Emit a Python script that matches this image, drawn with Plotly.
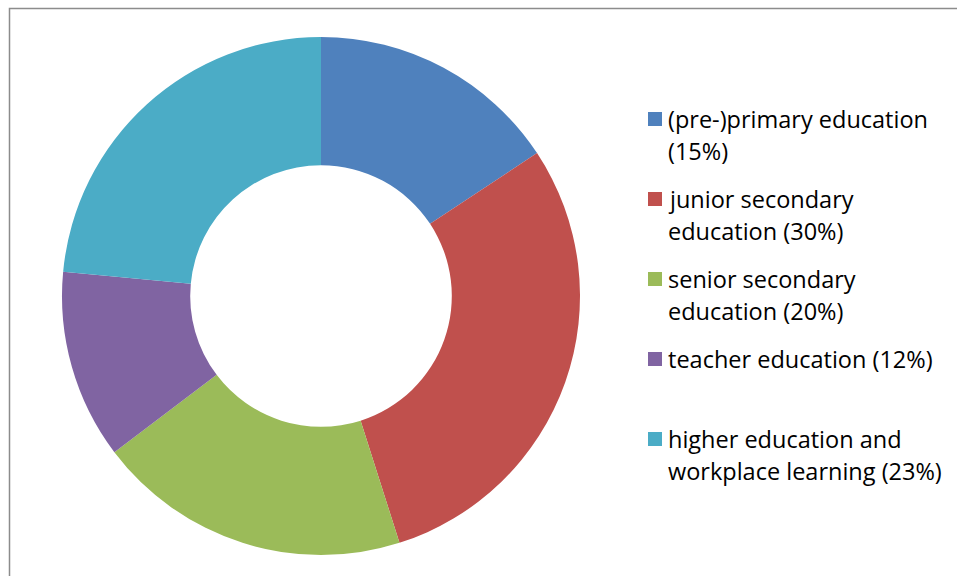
import plotly.graph_objects as go

labels = ["(pre-)primary education", "junior secondary education",
          "senior secondary education", "teacher education",
          "higher education and workplace learning"]
shares = [15.7, 29.4, 19.6, 11.8, 23.5]
colors = ["#4F81BD", "#C0504D", "#9BBB59", "#8064A2", "#4BACC6"]

# how the legend text wraps in the original
legend_lines = [
    ["(pre-)primary education", "(15%)"],
    ["junior secondary", "education (30%)"],
    ["senior secondary", "education (20%)"],
    ["teacher education (12%)"],
    ["higher education and", "workplace learning (23%)"],
]

W, H = 957, 576
cx, cy, r = 321, 296, 259

fig = go.Figure(go.Pie(
    labels=labels,
    values=shares,
    marker=dict(colors=colors, line=dict(color="white", width=0)),
    hole=0.505,
    sort=False,
    direction="clockwise",
    rotation=0,
    textinfo="none",
    hoverinfo="label",
    showlegend=False,
    domain=dict(x=[(cx - r) / W, (cx + r) / W],
                y=[(H - cy - r) / H, (H - cy + r) / H]),
))

# hand-built legend: colour square plus one annotation per line
font = dict(family="Open Sans", size=23.5, color="#000000")
for i, lines in enumerate(legend_lines):
    top = 119 + 80 * i
    fig.add_shape(type="rect", xref="paper", yref="paper",
                  x0=648 / W, x1=662 / W,
                  y0=1 - (top + 7) / H, y1=1 - (top - 7) / H,
                  fillcolor=colors[i], line=dict(width=0))
    for j, txt in enumerate(lines):
        fig.add_annotation(x=666 / W, y=1 - (top + 32 * j) / H,
                           xref="paper", yref="paper",
                           xanchor="left", yanchor="middle",
                           text=txt, showarrow=False, font=font)

# chart-area frame (only top and left edges show in the crop)
fig.add_shape(type="rect", xref="paper", yref="paper",
              x0=9.5 / W, x1=1.1, y0=-0.1, y1=1 - 8.5 / H,
              line=dict(color="#8C8C8C", width=1.5), fillcolor="rgba(0,0,0,0)")

fig.update_layout(
    width=W, height=H,
    margin=dict(l=0, r=0, t=0, b=0),
    paper_bgcolor="white",
    plot_bgcolor="white",
)

# drop the default 8px body margin so the figure sits at the window corner
fig.write_html("out.html", config={"displayModeBar": False},
               post_script="document.body.style.margin='0';")
